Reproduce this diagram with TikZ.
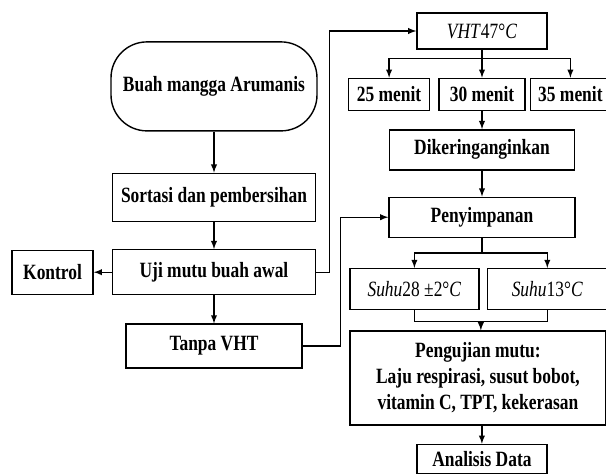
\documentclass[tikz,border=0pt]{standalone}
\usepackage{fontspec}
\setmainfont{Liberation Serif}[FakeStretch=0.8]
\usepackage{tikz}
\usetikzlibrary{positioning,calc}

\begin{document}
\begin{tikzpicture}[
    >=latex,
    every node/.style={font=\bfseries\fontsize{15.5}{18.5}\selectfont},
    box/.style={
        draw,
        line width=1pt,
        inner sep=1pt,
        align=center
    },
    flow/.style={
        ->,
        line width=1pt
    }
]

\useasboundingbox (0,0) rectangle (15.15,-11.875);

% left column
\node[
    box,
    rounded corners=0.9cm,
    minimum width=5.15cm,
    minimum height=2.225cm
] (mangga) at (5.35,-2.16)
{Buah mangga Arumanis};

\node[
    box,
    minimum width=5.075cm,
    minimum height=1.2cm,
    below=1.025cm of mangga
] (sortasi)
{Sortasi dan pembersihan};

\node[
    box,
    minimum width=5.075cm,
    minimum height=1.125cm,
    below=0.675cm of sortasi
] (ujiawal)
{Uji mutu buah awal};

\node[
    box,
    minimum width=2.025cm,
    minimum height=1.1cm,
    left=0.45cm of ujiawal
] (kontrol)
{Kontrol};

\node[
    box,
    minimum width=4.4cm,
    minimum height=1.1cm,
    below=0.7cm of ujiawal
] (tanpavht)
{Tanpa VHT};

% right column
\node[
    box,
    minimum width=3.25cm,
    minimum height=0.9cm
] (vht) at (12.05,-0.775)
{\textmd{\textit{VHT}47°\textit{C}}};

\node[
    box,
    minimum width=2.15cm,
    minimum height=0.8cm,
    below=0.7cm of vht
] (menit30)
{30 menit};

\node[
    box,
    minimum width=2.025cm,
    minimum height=0.8cm,
    left=0.2cm of menit30
] (menit25)
{25 menit};

\node[
    box,
    minimum width=2.0cm,
    minimum height=0.8cm,
    right=0.1cm of menit30
] (menit35)
{35 menit};

\node[
    box,
    minimum width=4.625cm,
    minimum height=1.0cm,
    below=0.45cm of menit30
] (kering)
{Dikeringanginkan};

\node[
    box,
    minimum width=4.65cm,
    minimum height=1.0cm,
    below=0.65cm of kering
] (simpan)
{Penyimpanan};

\node[
    box,
    minimum width=3.225cm,
    minimum height=1.025cm,
    below=0.75cm of simpan,
    xshift=-1.69cm
] (suhu28)
{\textmd{\textit{Suhu}28 ±2°\textit{C}}};

\node[
    box,
    minimum width=3.0cm,
    minimum height=1.025cm,
    right=0.175cm of suhu28
] (suhu13)
{\textmd{\textit{Suhu}13°\textit{C}}};

\node[
    box,
    anchor=north west,
    minimum width=6.4cm,
    minimum height=2.35cm,
    below right=0.5cm and 0cm of suhu28.south west
] (pengujian)
{Pengujian mutu:\\Laju respirasi, susut bobot,\\vitamin C, TPT, kekerasan};

\node[
    box,
    minimum width=3.25cm,
    minimum height=0.72cm,
    below=0.45cm of pengujian,
    xshift=0.1cm
] (analisis)
{Analisis Data};

% connectors
\draw[flow] (mangga) -- (sortasi);
\draw[flow] (sortasi) -- (ujiawal);
\draw[flow] (ujiawal) -- (kontrol);
\draw[flow] (ujiawal) -- (tanpavht);

\draw[flow] (ujiawal.east) -- ++(0.325,0) |- (vht.west);
\draw[flow] (tanpavht.east) -- ++(0.95,0) |- (simpan.west);

\coordinate (cabang1) at ($(vht.south)+(0,-0.225)$);
\draw[flow] (vht.south) -- (menit30.north);
\draw[flow] (cabang1) -| (menit25.north);
\draw[flow] (cabang1) -| (menit35.north);

\draw[flow] (menit30) -- (kering);
\draw[flow] (kering) -- (simpan);

\coordinate (cabang2) at ($(simpan.south)+(0,-0.375)$);
\draw[line width=1pt] (simpan.south) -- (cabang2);
\draw[flow] (cabang2) -| (suhu28.north);
\draw[flow] (cabang2) -| (suhu13.north);

\coordinate (gabung) at ($(suhu28.south)!0.5!(suhu13.south)+(0,-0.275)$);
\draw[line width=1pt] (suhu28.south) |- (gabung) -| (suhu13.south);
\draw[flow] (gabung) -- (gabung |- pengujian.north);

\draw[flow] (analisis.north |- pengujian.south) -- (analisis.north);

\end{tikzpicture}
\end{document}
